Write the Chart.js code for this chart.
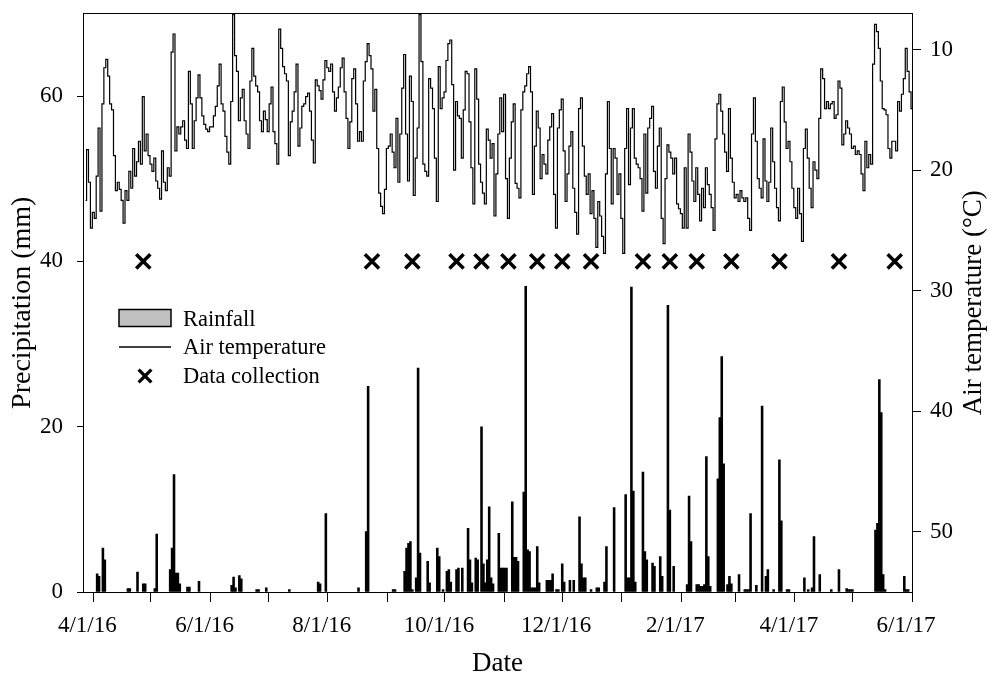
<!DOCTYPE html>
<html>
<head>
<meta charset="utf-8">
<script src="https://cdn.jsdelivr.net/npm/chart.js@4.4.1/dist/chart.umd.min.js"></script>
<style>
html,body{margin:0;padding:0;background:#fff;}
#wrap{width:990px;height:674px;position:relative;}
</style>
</head>
<body>
<div id="wrap"><canvas id="c" width="990" height="674"></canvas></div>
<script>
// ---- axis ticks (days counted from 4/1/16) ----
const tickDays   = [0, 30, 61, 91, 122, 153, 183, 214, 244, 275, 306, 334, 365, 395, 426];
const tickLabels = ['4/1/16','','6/1/16','','8/1/16','','10/1/16','','12/1/16','','2/1/17','','4/1/17','','6/1/17'];
const precipTicks = [0, 20, 40, 60];
const tempTicks   = [10, 20, 30, 40, 50];

// ---- daily air temperature (°C), first value is day -4 (3/28/16) ----
const tempStartDay = -4;
const airTemp = [
  22.5, 18.3, 21.0, 24.8, 23.5,
  24.0, 20.5, 16.5, 23.4, 14.5, 11.5, 10.8, 12.2, 14.5, 15.0,
  18.8, 21.7, 21.0, 21.6, 22.5, 24.4, 21.7, 22.5, 20.1, 21.5,
  18.2, 20.5, 19.3, 17.6, 19.5, 13.9, 18.4, 17.0, 18.8, 19.5,
  20.1, 19.0, 20.9, 21.5, 22.4, 18.4, 21.0, 21.7, 19.8, 20.5,
  10.2, 8.7, 18.4, 16.4, 17.0, 16.4, 15.9, 17.5, 18.2, 11.8,
  14.5, 18.2, 15.9, 14.0, 12.1, 14.0, 15.5, 16.2, 16.6, 16.8,
  16.4, 16.4, 15.5, 14.7, 13.0, 11.2, 14.5, 15.1, 17.2, 18.5,
  19.5, 14.3, 7.1, 10.5, 11.8, 15.9, 14.0, 13.3, 15.9, 17.0,
  18.2, 12.6, 9.9, 12.2, 13.0, 13.5, 15.9, 16.8, 15.1, 15.8,
  16.8, 14.5, 13.1, 16.8, 17.8, 19.5, 8.3, 9.9, 11.4, 12.0,
  12.6, 18.8, 16.0, 15.1, 13.5, 11.2, 18.0, 16.5, 14.7, 14.5,
  13.9, 13.6, 15.1, 17.5, 19.4, 12.5, 13.0, 13.4, 14.1, 12.5,
  10.9, 11.5, 11.8, 11.2, 13.5, 15.1, 14.0, 13.1, 11.5, 10.7,
  13.5, 15.7, 18.2, 16.0, 12.4, 11.6, 14.5, 17.6, 16.8, 17.6,
  12.6, 11.0, 9.5, 10.5, 11.6, 15.1, 13.3, 18.2, 21.9, 23.0,
  23.6, 21.6, 18.2, 18.0, 17.0, 18.5, 19.8, 15.7, 21.0, 17.0,
  13.2, 10.4, 17.0, 20.9, 12.2, 14.3, 22.1, 19.0, 16.5, 7.1,
  11.0, 19.5, 20.1, 20.5, 12.4, 13.2, 14.9, 19.0, 22.6, 11.4,
  14.9, 14.0, 13.5, 10.9, 9.5, 9.2, 12.9, 20.0, 14.3, 15.5,
  15.7, 19.0, 15.0, 11.8, 12.0, 16.0, 19.8, 22.8, 11.6, 14.1,
  19.5, 21.0, 21.9, 22.8, 16.6, 17.5, 19.0, 17.8, 23.8, 20.3,
  17.0, 14.0, 16.8, 13.7, 20.7, 24.0, 19.0, 16.0, 14.5, 21.1,
  21.5, 22.3, 15.0, 13.5, 13.0, 12.0, 11.4, 13.5, 22.0, 18.0,
  15.1, 16.5, 20.7, 18.7, 19.5, 20.3, 17.5, 16.4, 15.3, 22.0,
  24.8, 16.5, 15.0, 14.1, 18.4, 22.6, 20.3, 18.0, 16.8, 21.5,
  23.5, 25.3, 14.9, 14.0, 18.0, 20.5, 22.0, 20.3, 23.6, 21.7,
  24.0, 26.4, 22.6, 23.8, 25.5, 26.9, 20.3, 14.3, 18.2, 22.8,
  18.2, 19.0, 22.0, 20.3, 24.0, 26.9, 18.2, 14.9, 21.2, 16.5,
  14.9, 19.0, 19.5, 19.8, 20.7, 23.4, 17.0, 21.9, 16.5, 15.7,
  14.7, 20.1, 21.5, 18.0, 16.5, 24.0, 26.1, 20.7, 17.9, 18.5,
  19.0, 20.3, 19.0, 22.8, 23.2, 23.6, 24.8, 19.8, 24.8, 17.0,
  18.5, 20.9, 22.6, 19.8, 22.0, 24.2, 21.5, 23.1, 19.8, 21.2,
  22.0, 23.1, 25.0, 17.4, 14.5, 13.7, 15.1, 17.0, 18.5, 20.1,
  14.9, 19.0, 21.0, 22.3, 22.0, 22.6, 21.7, 22.3, 22.6, 22.3,
  24.0, 25.0, 17.0, 14.0, 17.6, 20.7, 21.5, 22.3, 17.4, 20.9,
  22.6, 21.0, 16.5, 19.3, 21.5, 23.1, 24.2, 14.3, 13.1, 16.0,
  18.2, 17.6, 19.3, 21.5, 23.1, 24.0, 21.5, 23.6, 25.9, 18.2,
  16.6, 19.0, 21.5, 23.1, 19.3, 20.0, 20.7, 15.7, 11.6, 12.4,
  14.9, 14.3, 14.9, 14.5, 14.3, 15.7, 15.4, 12.6, 13.2, 17.9,
  17.0, 15.9, 16.5, 17.0, 18.2, 18.0, 18.7, 18.4, 18.7, 20.3,
  21.7, 17.6, 19.8, 18.7, 19.5, 11.2, 7.9, 8.5, 9.9, 12.6,
  14.9, 15.0, 15.4, 18.2, 19.0, 17.6, 17.6, 18.4, 14.3, 15.1,
  13.7, 12.4, 9.9, 11.8, 13.5, 14.9
];

// ---- daily rainfall (mm), rainy days only ----
const rainDays = [2,3,5,6,18,19,23,26,27,32,33,40,41,42,43,44,45,49,50,55,72,73,74,76,77,85,86,90,102,117,118,121,138,142,143,
  156,157,162,163,164,165,166,168,169,170,174,175,179,180,182,184,185,186,189,190,192,195,196,197,199,200,202,203,204,205,206,207,208,
  211,212,213,214,215,218,219,220,221,224,225,226,227,228,229,230,231,232,236,237,238,239,241,242,244,245,248,250,253,254,255,256,259,
  262,263,266,267,271,277,278,279,280,281,282,286,287,288,291,292,295,296,299,300,302,309,310,311,314,315,316,317,318,319,320,321,
  325,326,327,328,330,331,332,336,339,340,341,342,345,348,350,351,354,357,358,361,362,370,372,374,375,378,384,388,392,393,394,395,
  407,408,409,410,411,412,422,423,424];
const rainMm = [2.2,1.9,5.3,3.9,0.4,0.4,2.4,1.0,1.0,0.4,7.0,2.7,5.3,14.2,2.3,2.3,1.0,0.6,0.6,1.3,0.8,1.8,0.5,2.0,1.6,0.3,0.3,0.5,0.3,1.2,1.0,9.5,0.5,7.3,24.9,
  0.3,0.3,2.5,5.3,5.9,6.1,0.3,1.7,27.1,4.7,3.7,1.1,5.3,4.3,0.3,2.5,2.7,1.2,2.7,2.9,2.9,7.7,3.9,1.1,4.1,3.9,20.0,3.4,1.1,3.9,10.3,1.7,1.0,
  7.1,2.9,2.9,2.9,2.9,10.9,4.2,4.2,3.7,12.1,37.0,5.1,4.9,0.5,0.5,0.5,5.5,1.1,1.4,1.4,1.4,2.2,0.3,0.3,3.4,1.2,1.4,1.4,9.1,3.4,1.7,1.7,0.3,
  0.5,0.5,1.2,5.5,10.2,11.8,1.7,1.7,36.9,12.2,1.2,14.5,4.9,3.9,3.5,3.1,4.3,1.9,34.7,9.9,3.1,0.9,11.6,6.1,0.9,0.9,0.7,0.7,0.9,16.4,4.3,0.7,
  13.7,21.1,28.5,15.5,0.9,1.9,1.0,2.1,0.3,0.3,0.3,9.5,0.8,22.5,1.9,2.7,0.3,16.0,8.6,0.3,0.3,1.7,0.3,0.5,6.7,2.1,0.3,2.7,0.4,0.3,0.3,0.3,
  7.5,8.3,25.7,21.7,2.1,0.3,1.9,0.3,0.3];

// ---- data collection dates (days from 4/1/16), drawn at 40 mm ----
const collectionDays = [26,145,166,189,202,216,231,244,259,286,300,314,332,357,388,417];
const collectionLevel = 40;

const serif = "'Liberation Serif','Times New Roman',serif";
Chart.defaults.font.family = serif;
Chart.defaults.color = '#000';

const overlay = {
  id: 'overlay',
  afterDraw(chart) {
    const ctx = chart.ctx;
    const a = chart.chartArea;
    const ds = chart.data.datasets;
    ctx.save();
    // legend
    const lx = a.left + 36, lw = 52, tx = a.left + 100;
    ctx.fillStyle = '#c0c0c0';
    ctx.fillRect(lx, 309.5, lw, 17);
    ctx.strokeStyle = '#000';
    ctx.lineWidth = 1.5;
    ctx.strokeRect(lx, 309.5, lw, 17);
    ctx.beginPath();
    ctx.lineWidth = 1.3;
    ctx.moveTo(lx, 347); ctx.lineTo(lx + lw, 347);
    ctx.stroke();
    ctx.lineWidth = 3.3;
    ctx.strokeStyle = '#000';
    ctx.fillStyle = '#000';
    Chart.helpers.drawPoint(ctx, {pointStyle: 'crossRot', radius: 9, borderWidth: 3.3}, lx + lw / 2, 376);
    ctx.fillStyle = '#000';
    ctx.font = '22.5px ' + serif;
    ctx.textAlign = 'left';
    ctx.textBaseline = 'alphabetic';
    ctx.fillText(ds[0].label, tx, 325.5);
    ctx.fillText(ds[1].label, tx, 354);
    ctx.fillText(ds[2].label, tx, 383);
    // axis titles
    ctx.font = '27px ' + serif;
    ctx.textAlign = 'center';
    ctx.fillText('Date', (a.left + a.right) / 2, 671);
    const cy = (a.top + a.bottom) / 2;
    ctx.save();
    ctx.font = '28px ' + serif;
    ctx.translate(30, cy); ctx.rotate(-Math.PI / 2);
    ctx.fillText('Precipitation (mm)', 0, 0);
    ctx.restore();
    ctx.save();
    ctx.translate(980.5, cy); ctx.rotate(-Math.PI / 2);
    ctx.fillText('Air temperature (\u00B0C)', 0, 0);
    ctx.restore();
    ctx.restore();
  }
};

const xMin = -5.36, xMax = 426;
const tickFont = {family: serif, size: 23};
const noPad = s => { s.paddingTop = 0; s.paddingBottom = 0; s.paddingLeft = 0; s.paddingRight = 0; };

new Chart(document.getElementById('c'), {
  type: 'bar',
  data: {
    datasets: [
      {
        type: 'bar', label: 'Rainfall',
        data: rainDays.map((d, i) => ({x: d, y: rainMm[i]})),
        backgroundColor: '#000', borderWidth: 0,
        barPercentage: 1, categoryPercentage: 1,
        xAxisID: 'x', yAxisID: 'y', order: 3
      },
      {
        type: 'line', label: 'Air temperature',
        data: airTemp.map((t, i) => ({x: tempStartDay + i, y: t})),
        borderColor: '#000', borderWidth: 1.2, pointRadius: 0, stepped: 'middle',
        fill: false, tension: 0,
        xAxisID: 'x', yAxisID: 'yT', order: 2
      },
      {
        type: 'scatter', label: 'Data collection',
        data: collectionDays.map(d => ({x: d, y: collectionLevel})),
        pointStyle: 'crossRot', pointRadius: 10, borderWidth: 3.5,
        borderColor: '#000', backgroundColor: '#000', showLine: false,
        xAxisID: 'x', yAxisID: 'y', order: 1
      }
    ]
  },
  options: {
    responsive: false, animation: false, devicePixelRatio: 1,
    layout: {padding: {top: 12, left: 0, right: 0, bottom: 0}},
    plugins: {legend: {display: false}, tooltip: {enabled: false}},
    scales: {
      x: {
        type: 'linear', position: 'bottom', min: xMin, max: xMax, offset: false,
        grid: {display: true, drawOnChartArea: false, drawTicks: true, tickLength: 10, color: '#000', offset: false},
        border: {display: true, color: '#000', width: 1},
        ticks: {autoSkip: false, maxRotation: 0, minRotation: 0, padding: 10, labelOffset: -6, color: '#000', font: tickFont,
          callback: v => { const i = tickDays.indexOf(v); return i >= 0 ? tickLabels[i] : ''; }},
        afterBuildTicks: s => { s.ticks = tickDays.map(v => ({value: v})); },
        afterFit: s => { s.height = 82; noPad(s); }
      },
      xTop: {
        type: 'linear', position: 'top', min: xMin, max: xMax, offset: false,
        grid: {display: true, drawOnChartArea: false, drawTicks: false},
        border: {display: true, color: '#000', width: 1},
        ticks: {display: false},
        afterFit: s => { s.height = 0; noPad(s); }
      },
      y: {
        type: 'linear', position: 'left', min: 0, max: 70,
        grid: {display: true, drawOnChartArea: false, drawTicks: true, tickLength: 6, color: '#000'},
        border: {display: true, color: '#000', width: 1},
        ticks: {padding: 14, color: '#000', font: tickFont},
        afterBuildTicks: s => { s.ticks = precipTicks.map(v => ({value: v})); },
        afterFit: s => { s.width = 83; noPad(s); }
      },
      yT: {
        type: 'linear', position: 'right', min: 7, max: 55, reverse: true,
        grid: {display: true, drawOnChartArea: false, drawTicks: true, tickLength: 9, color: '#000'},
        border: {display: true, color: '#000', width: 1},
        ticks: {padding: 9, color: '#000', font: tickFont},
        afterBuildTicks: s => { s.ticks = tempTicks.map(v => ({value: v})); },
        afterFit: s => { s.width = 78; noPad(s); }
      }
    }
  },
  plugins: [overlay]
});
</script>
</body>
</html>
